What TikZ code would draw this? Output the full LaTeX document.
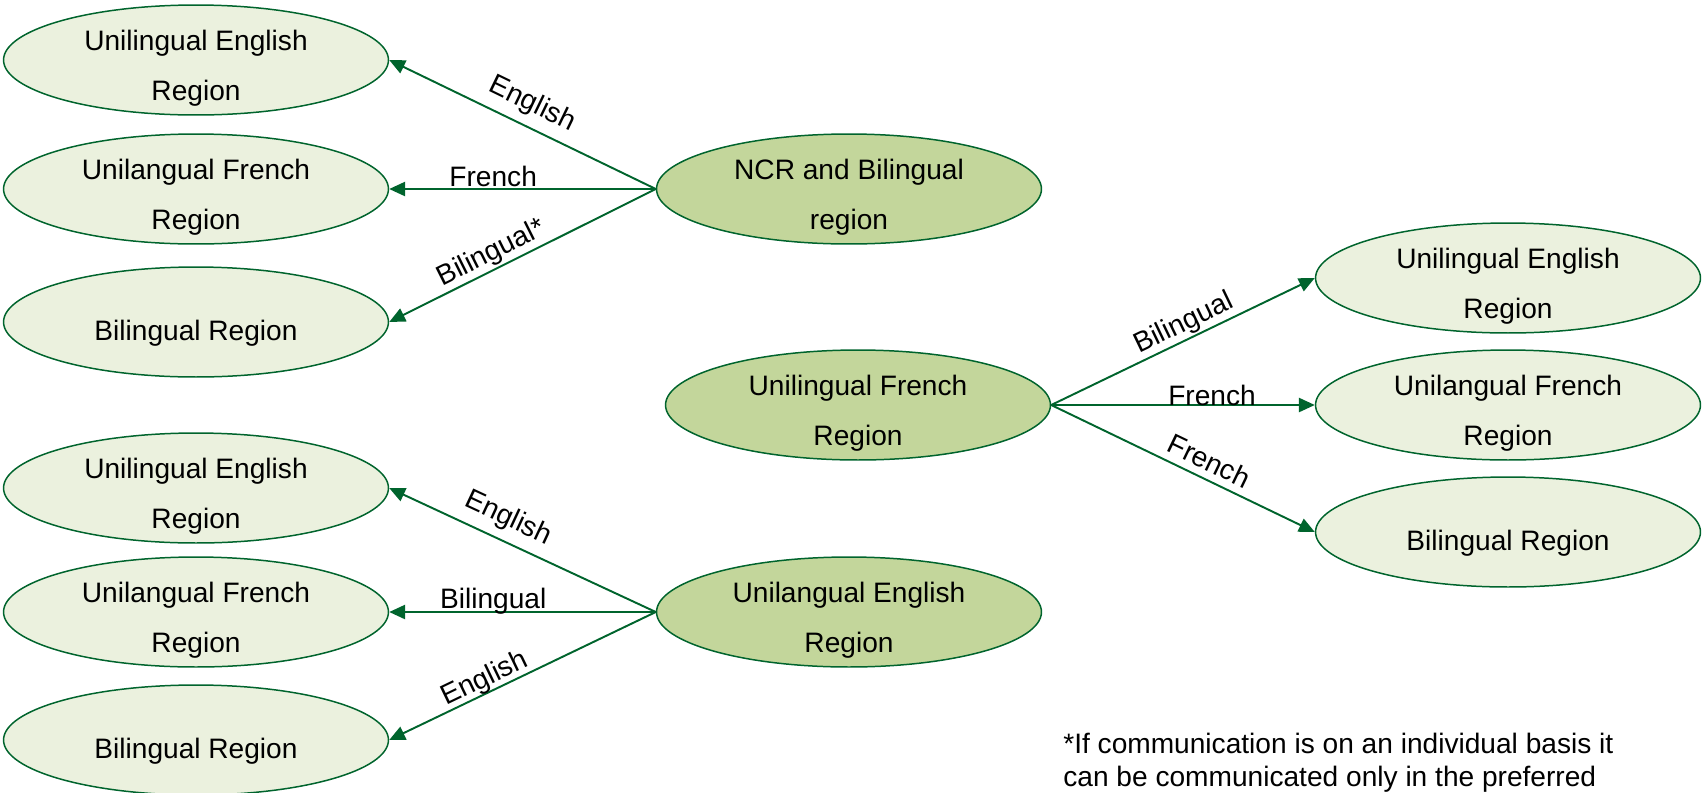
\documentclass[tikz,border=0pt]{standalone}
\usepackage{fontspec}
\setmainfont{Liberation Sans}
\usetikzlibrary{shapes.geometric}
\usetikzlibrary{arrows.meta}
\definecolor{linkgreen}{RGB}{0,100,45}
\definecolor{palegreen}{RGB}{235,241,222}
\definecolor{olivegreen}{RGB}{195,214,155}
\newcommand{\lbl}{\fontsize{16}{19}\selectfont}

\begin{document}
\begin{tikzpicture}[x=0.02cm,y=-0.02cm,
    region/.style={ellipse,draw=linkgreen,line width=0.85pt,fill=palegreen,
      minimum width=7.7cm,minimum height=2.2cm,inner xsep=0pt,inner ysep=-8pt,
      align=center,text height=49.5pt,font=\fontsize{16}{28.5}\selectfont},
    oneline/.style={text height=24pt},
    home/.style={region,fill=olivegreen},
    link/.style={draw=linkgreen,line width=1.1pt,-{Triangle[length=9pt,width=8pt]}},
    tag/.style={anchor=base,sloped,font=\lbl,inner sep=0pt}]
      \useasboundingbox (0,0) rectangle (1704,792);
      % NCR group
      \node[home] (ncr) at (849,189) {NCR and Bilingual\\region};
      \node[region] (ncrEng) at (196,60) {Unilingual English\\Region};
      \node[region] (ncrFre) at (196,189) {Unilangual French\\Region};
      \node[region,oneline] (ncrBil) at (196,322) {Bilingual Region};
      \draw[link] (ncr.west) -- (ncrEng.east) node[tag,pos=0.5,yshift=8.5pt] {English};
      \draw[link] (ncr.west) -- (ncrFre.east) node[tag,pos=0.61,yshift=1.5pt] {French};
      \draw[link] (ncr.west) -- (ncrBil.east) node[tag,pos=0.59,yshift=4.7pt] {Bilingual*};
      % French group
      \node[home] (fre) at (858,405) {Unilingual French\\Region};
      \node[region] (freEng) at (1508,278) {Unilingual English\\Region};
      \node[region] (freFre) at (1508,405) {Unilangual French\\Region};
      \node[region,oneline] (freBil) at (1508,532) {Bilingual Region};
      \draw[link] (fre.east) -- (freEng.west) node[tag,pos=0.53,yshift=4.7pt] {Bilingual};
      \draw[link] (fre.east) -- (freFre.west) node[tag,pos=0.61] {French};
      \draw[link] (fre.east) -- (freBil.west) node[tag,pos=0.57,yshift=4.8pt] {French};
      % English group
      \node[home] (eng) at (849,612) {Unilangual English\\Region};
      \node[region] (engEng) at (196,488) {Unilingual English\\Region};
      \node[region] (engFre) at (196,612) {Unilangual French\\Region};
      \node[region,oneline] (engBil) at (196,740) {Bilingual Region};
      \draw[link] (eng.west) -- (engEng.east) node[tag,pos=0.59,yshift=8.5pt] {English};
      \draw[link] (eng.west) -- (engFre.east) node[tag,pos=0.61,yshift=1.8pt] {Bilingual};
      \draw[link] (eng.west) -- (engBil.east) node[tag,pos=0.62,yshift=3.4pt] {English};
      % footnote
      \node[anchor=north west,align=left,inner sep=0pt,
        font=\fontsize{16}{18.8}\selectfont] (note) at (1063,733)
        {*If communication is on an individual basis it\\can be communicated only in the preferred};
\end{tikzpicture}
\end{document}
